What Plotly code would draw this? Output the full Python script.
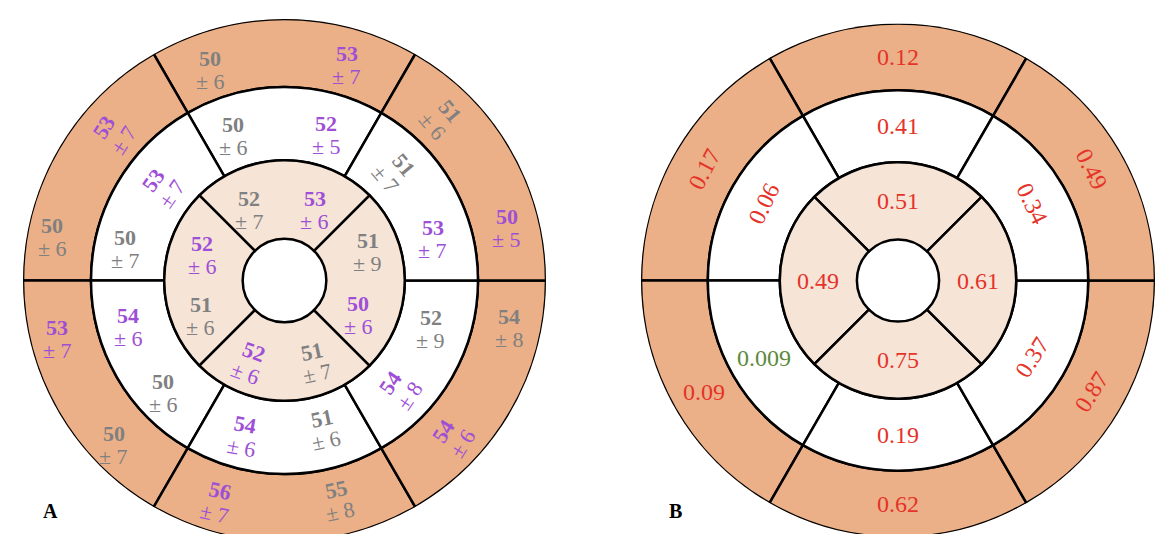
"""Bullseye (16-segment) plots: regional values per group (A) and p-values (B)."""

import math

import plotly.graph_objects as go

# Segment order
# basal / mid: anterior, anteroseptal, inferoseptal, inferior, inferolateral, anterolateral
# apical:      anterior, septal, inferior, lateral
basal_theta = [90, 150, 210, 270, 330, 30]
mid_theta = [90, 150, 210, 270, 330, 30]
apical_theta = [90, 180, 270, 0]

# group 1 (grey)
gray_mean_basal = [50, 50, 50, 55, 54, 51]
gray_sd_basal = [6, 6, 7, 8, 8, 6]
gray_mean_mid = [50, 50, 50, 51, 52, 51]
gray_sd_mid = [6, 7, 6, 6, 9, 7]
gray_mean_apical = [52, 51, 51, 51]
gray_sd_apical = [7, 6, 7, 9]

# group 2 (purple)
purple_mean_basal = [53, 53, 53, 56, 54, 50]
purple_sd_basal = [7, 7, 7, 7, 6, 5]
purple_mean_mid = [52, 53, 54, 54, 54, 53]
purple_sd_mid = [5, 7, 6, 6, 8, 7]
purple_mean_apical = [53, 52, 52, 50]
purple_sd_apical = [6, 6, 6, 6]

# p-values (panel B)
p_basal = ["0.12", "0.17", "0.09", "0.62", "0.87", "0.49"]
p_mid = ["0.41", "0.06", "0.009", "0.19", "0.37", "0.34"]
p_apical = ["0.51", "0.49", "0.75", "0.61"]

# ---- layout / style -------------------------------------------------------
RINGS = {"basal": (0.74, 1.0), "mid": (0.46, 0.74), "apical": (0.16, 0.46)}
RING_FILL = {"basal": "#EBB087", "mid": "#FFFFFF", "apical": "#F6E4D7"}
SEG_WIDTH = {"basal": 60, "mid": 60, "apical": 90}

GRAY = "#808080"
PURPLE = "#9E4FD6"
RED = "#E5332A"
GREEN = "#5E8A3C"
FONT = "Liberation Serif, Times New Roman, serif"

W, H = 1166, 534
CY = 272.5
# (centre x, radius) of each disc in pixels
PANELS = [(276.5, 261.5), (890.0, 257.0)]

# label placement in panel A: (radius fraction, angle deg, text rotation)
gray_pos = {
    "basal": [(0.854, 109.4, 0), (0.903, 169.3, 0), (0.908, 224, 0),
              (0.865, 283.7, -12), (0.879, 348, 0), (0.862, 45.8, 50)],
    "mid": [(0.587, 109.6, 0), (0.621, 168.7, 0), (0.632, 222.9, 0),
            (0.59, 284.9, -12), (0.59, 341.6, 0), (0.592, 44.6, 50)],
    "apical": [(0.303, 116.6, 0), (0.348, 203.2, 0), (0.334, 290.2, -12),
               (0.337, 19.2, 0)],
}
purple_pos = {
    "basal": [(0.857, 73.9, 0), (0.862, 139.4, -57), (0.898, 194.4, 0),
              (0.886, 253.1, 12), (0.879, 317, -58), (0.872, 13.2, 0)],
    "mid": [(0.579, 74, 0), (0.589, 142.5, -55), (0.623, 196.4, 0),
            (0.616, 255.1, 10), (0.606, 316.8, -56), (0.589, 15.5, 0)],
    "apical": [(0.294, 66.7, 0), (0.329, 163, 0), (0.34, 247, 20),
               (0.311, 335.1, 0)],
}
# text rotation in panel B (labels sit at segment centres)
p_rot = {
    "basal": [0, -62, 0, 0, -58, 63],
    "mid": [0, -64, 0, 0, -58, 64],
    "apical": [0, 0, 0, 0],
}

thetas = {"basal": basal_theta, "mid": mid_theta, "apical": apical_theta}


def dom(cx: float, rad: float) -> tuple[list[float], list[float]]:
    x = [(cx - rad) / W, (cx + rad) / W]
    y = [(H - CY - rad) / H, (H - CY + rad) / H]
    return x, [max(0.0, y[0]), y[1]]


fig = go.Figure()

for idx in range(2):
    polar = "polar" if idx == 0 else "polar2"
    for ring in ["basal", "mid", "apical"]:
        r0, r1 = RINGS[ring]
        n = len(thetas[ring])
        fig.add_trace(
            go.Barpolar(
                r=[r1 - r0] * n,
                base=[r0] * n,
                theta=thetas[ring],
                width=[SEG_WIDTH[ring]] * n,
                marker={"color": RING_FILL[ring], "line": {"color": "black", "width": 2.5}},
                subplot=polar,
                hoverinfo="skip",
                showlegend=False,
            ),
        )
    # invisible cartesian overlay used to position the labels
    fig.add_trace(
        go.Scatter(
            x=[0], y=[0], mode="markers", marker={"opacity": 0},
            xaxis="x" if idx == 0 else "x2", yaxis="y" if idx == 0 else "y2",
            hoverinfo="skip", showlegend=False,
        ),
    )


def add_label(xref, yref, rad_px, r, ang, rot, lines, color, size, gap):
    x0 = r * math.cos(math.radians(ang))
    y0 = r * math.sin(math.radians(ang))
    a = math.radians(-rot)
    dx, dy = math.sin(a), -math.cos(a)
    n = len(lines)
    for k, txt in enumerate(lines):
        off = (k - (n - 1) / 2) * gap / rad_px
        fig.add_annotation(
            x=x0 + off * dx, y=y0 + off * dy, xref=xref, yref=yref,
            text=txt, showarrow=False, textangle=rot,
            xanchor="center", yanchor="middle",
            font={"family": FONT, "size": size, "color": color},
        )


# panel A
means = {
    "gray": {"basal": gray_mean_basal, "mid": gray_mean_mid, "apical": gray_mean_apical},
    "purple": {"basal": purple_mean_basal, "mid": purple_mean_mid, "apical": purple_mean_apical},
}
sds = {
    "gray": {"basal": gray_sd_basal, "mid": gray_sd_mid, "apical": gray_sd_apical},
    "purple": {"basal": purple_sd_basal, "mid": purple_sd_mid, "apical": purple_sd_apical},
}
for grp, pos, color in [("gray", gray_pos, GRAY), ("purple", purple_pos, PURPLE)]:
    for ring in ["basal", "mid", "apical"]:
        for m, s, (r, ang, rot) in zip(means[grp][ring], sds[grp][ring], pos[ring]):
            add_label("x", "y", PANELS[0][1], r, ang, rot,
                      [f"<b>{m}</b>", f"± {s}"], color, 22, 23)

# panel B
pvals = {"basal": p_basal, "mid": p_mid, "apical": p_apical}
for ring in ["basal", "mid", "apical"]:
    r0, r1 = RINGS[ring]
    for p, th, rot in zip(pvals[ring], thetas[ring], p_rot[ring]):
        color = GREEN if float(p) < 0.05 else RED
        add_label("x2", "y2", PANELS[1][1], (r0 + r1) / 2, th, rot, [p], color, 24, 0)

polar_common = {
    "radialaxis": {"range": [0, 1], "visible": False},
    "angularaxis": {"visible": False, "direction": "counterclockwise", "rotation": 0},
    "bgcolor": "rgba(0,0,0,0)",
}
axis_common = {"range": [-1, 1], "visible": False, "fixedrange": True}

lx, ly = dom(*PANELS[0])
rx, ry = dom(*PANELS[1])

fig.update_layout(
    width=W,
    height=H,
    margin={"l": 0, "r": 0, "t": 0, "b": 0},
    paper_bgcolor="white",
    plot_bgcolor="rgba(0,0,0,0)",
    polar={**polar_common, "domain": {"x": lx, "y": ly}},
    polar2={**polar_common, "domain": {"x": rx, "y": ry}},
    xaxis={**axis_common, "domain": lx},
    yaxis={**axis_common, "domain": ly},
    xaxis2={**axis_common, "domain": rx},
    yaxis2={**axis_common, "domain": ry},
    showlegend=False,
)

for letter, px in [("A", 42), ("B", 667)]:
    fig.add_annotation(
        x=px / W, y=(H - 503) / H, xref="paper", yref="paper",
        text=f"<b>{letter}</b>", showarrow=False, xanchor="center", yanchor="middle",
        font={"family": FONT, "size": 20, "color": "black"},
    )

fig.write_html("out.html")
